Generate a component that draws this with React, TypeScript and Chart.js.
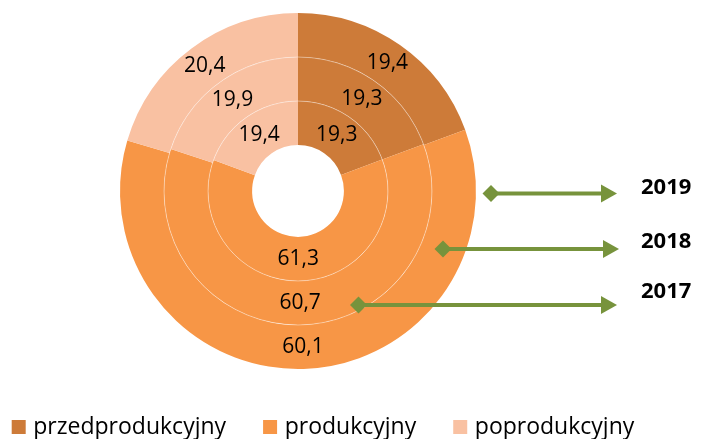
import React, { useEffect, useRef } from "react";
import { Chart, registerables } from "chart.js";

Chart.register(...registerables);

const categories = ["przedprodukcyjny", "produkcyjny", "poprodukcyjny"];
const years = ["2019", "2018", "2017"];
const values2019 = [19.4, 60.1, 20.4];
const values2018 = [19.3, 60.7, 19.9];
const values2017 = [19.3, 61.3, 19.4];
const colors = ["#CD7B39", "#F79646", "#F9C1A2"];

const FONT = "'Open Sans', 'Noto Sans', sans-serif";
const GREEN = "#77933C";

// arrow annotation layout (pixels): diamond centre x, arrow tip x, line y, label y
const arrowLayout = [
  { x1: 491, x2: 617, y: 193.5, ty: 188 },
  { x1: 443, x2: 619, y: 249, ty: 242 },
  { x1: 358.5, x2: 617, y: 305, ty: 292 },
];

const ringLinesPlugin = {
  id: "ringLines",
  afterDatasetsDraw(chart: any) {
    const ctx = chart.ctx;
    ctx.save();
    ctx.strokeStyle = "rgba(255,255,255,0.5)";
    ctx.lineWidth = 0.8;
    chart.data.datasets.forEach((_d: any, i: number) => {
      if (i === chart.data.datasets.length - 1) return;
      const meta = chart.getDatasetMeta(i);
      const arc = meta.data[0];
      if (!arc) return;
      ctx.beginPath();
      ctx.arc(arc.x, arc.y, arc.innerRadius, 0, Math.PI * 2);
      ctx.stroke();
    });
    ctx.restore();
  },
};

const labelsPlugin = {
  id: "arcLabels",
  afterDatasetsDraw(chart: any) {
    const ctx = chart.ctx;
    ctx.save();
    ctx.fillStyle = "#000";
    ctx.font = `21px ${FONT}`;
    ctx.textAlign = "center";
    ctx.textBaseline = "middle";
    chart.data.datasets.forEach((ds: any, i: number) => {
      const meta = chart.getDatasetMeta(i);
      meta.data.forEach((arc: any, j: number) => {
        const p = arc.tooltipPosition();
        const txt = Number(ds.data[j]).toFixed(1).replace(".", ",");
        ctx.fillText(txt, p.x, p.y);
      });
    });
    ctx.restore();
  },
};

const arrowsPlugin = {
  id: "yearArrows",
  afterDraw(chart: any) {
    const ctx = chart.ctx;
    ctx.save();
    arrowLayout.forEach((a, i) => {
      ctx.strokeStyle = GREEN;
      ctx.fillStyle = GREEN;
      ctx.lineWidth = 4;
      ctx.beginPath();
      ctx.moveTo(a.x1, a.y);
      ctx.lineTo(a.x2 - 14, a.y);
      ctx.stroke();
      const d = 8.5;
      ctx.beginPath();
      ctx.moveTo(a.x1 - d, a.y);
      ctx.lineTo(a.x1, a.y - d);
      ctx.lineTo(a.x1 + d, a.y);
      ctx.lineTo(a.x1, a.y + d);
      ctx.closePath();
      ctx.fill();
      ctx.beginPath();
      ctx.moveTo(a.x2, a.y);
      ctx.lineTo(a.x2 - 16, a.y - 9);
      ctx.lineTo(a.x2 - 16, a.y + 9);
      ctx.closePath();
      ctx.fill();
      ctx.fillStyle = "#000";
      ctx.font = `bold 22px ${FONT}`;
      ctx.textAlign = "left";
      ctx.textBaseline = "middle";
      ctx.fillText(years[i], 641, a.ty);
    });
    ctx.restore();
  },
};

const legendPlugin = {
  id: "bottomLegend",
  afterDraw(chart: any) {
    const ctx = chart.ctx;
    ctx.save();
    ctx.font = `23px ${FONT}`;
    ctx.textAlign = "left";
    ctx.textBaseline = "middle";
    let x = 11.7;
    const y = 427;
    const bg = chart.data.datasets[0].backgroundColor;
    chart.data.labels.forEach((lab: string, i: number) => {
      ctx.fillStyle = bg[i];
      ctx.fillRect(x, y - 7, 14, 14);
      ctx.fillStyle = "#000";
      const tx = x + 21.6;
      ctx.fillText(lab, tx, y);
      x = tx + ctx.measureText(lab).width + 37;
    });
    ctx.restore();
  },
};

export default function App() {
  const ref = useRef<HTMLCanvasElement | null>(null);
  useEffect(() => {
    document.body.style.margin = "0";
    const canvas = ref.current;
    if (!canvas) return;
    const chart = new Chart(canvas, {
      type: "doughnut",
      data: {
        labels: categories,
        datasets: [values2019, values2018, values2017].map((vals, i) => ({
          label: years[i],
          data: vals,
          backgroundColor: colors,
          borderWidth: 0,
          hoverOffset: 0,
        })),
      },
      options: {
        responsive: false,
        animation: false,
        cutout: "25.8%",
        rotation: 0,
        layout: { padding: { left: 120, right: 226, top: 13, bottom: 70 } },
        plugins: {
          legend: { display: false },
          tooltip: { enabled: false },
        },
      },
      plugins: [ringLinesPlugin, labelsPlugin, arrowsPlugin, legendPlugin],
    });
    return () => chart.destroy();
  }, []);
  return (
    <div style={{ width: 702, height: 439 }}>
      <canvas ref={ref} width={702} height={439} style={{ display: "block" }} />
    </div>
  );
}
